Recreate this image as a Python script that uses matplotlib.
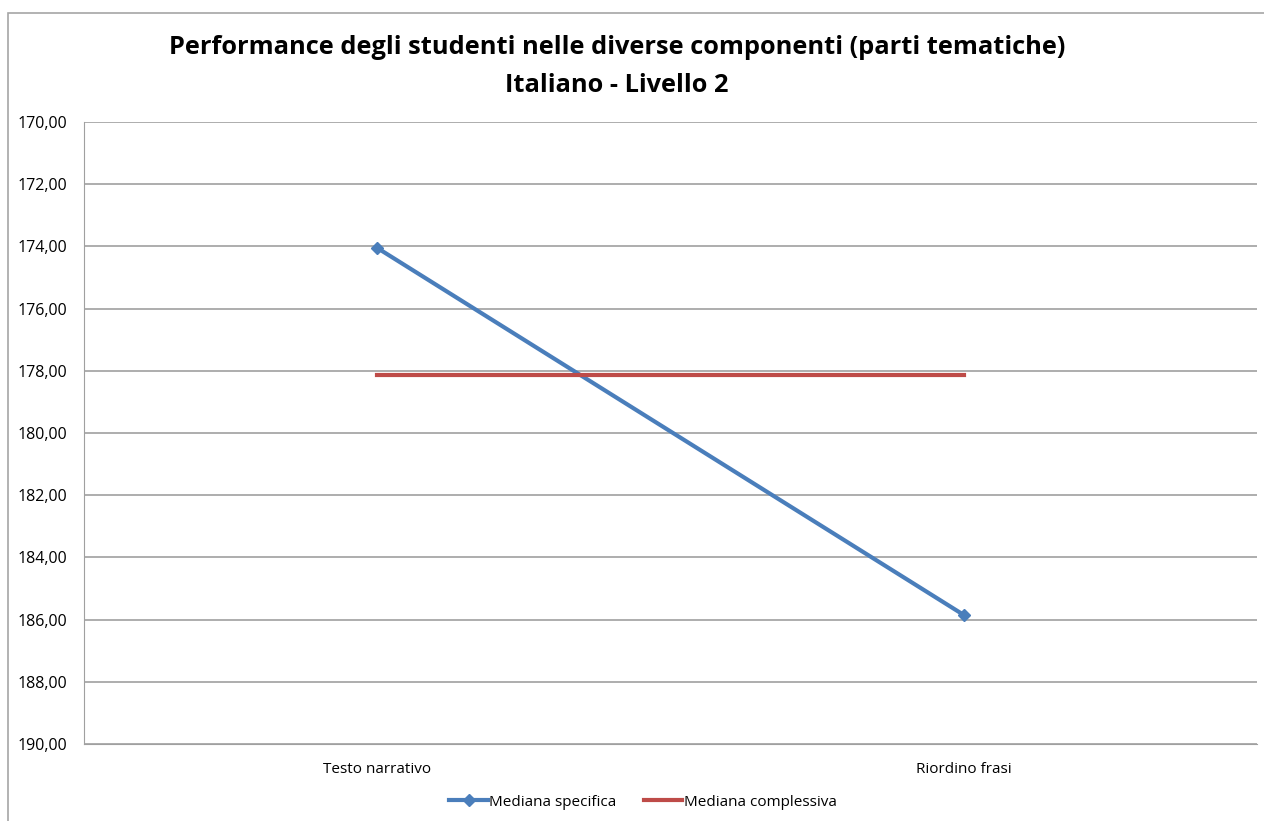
import numpy as np
import matplotlib.pyplot as plt
from matplotlib.patches import Rectangle
from matplotlib.ticker import FuncFormatter

categorie = ["Testo narrativo", "Riordino frasi"]
mediana_specifica = [174.05, 185.85]
mediana_complessiva = [178.13, 178.13]
y_ticks = np.arange(170, 191, 2)

plt.rcParams['font.family'] = ['Open Sans', 'DejaVu Sans']

fig = plt.figure(figsize=(12.64, 8.21), dpi=100)
fig.patches.append(Rectangle((8/1264, -0.1), 1.2, 1 - 13/821 + 0.1, transform=fig.transFigure,
                             fill=False, edgecolor='#a6a6a6', linewidth=1.2))
ax = fig.add_axes([84/1264, 1 - 744/821, (1257 - 84)/1264, (744 - 122)/821])

x = np.arange(len(categorie))
ax.plot(x, mediana_specifica, color='#4a7ebb', linewidth=3, marker='D', markersize=6,
        label='Mediana specifica')
ax.plot(x, mediana_complessiva, color='#be4b48', linewidth=3, label='Mediana complessiva')

ax.set_xlim(-0.5, 1.5)
ax.set_ylim(190, 170)
ax.set_yticks(y_ticks)
ax.yaxis.set_major_formatter(FuncFormatter(lambda v, p: f"{v:.2f}".replace('.', ',')))
ax.set_xticks(x)
ax.set_xticklabels(categorie)
ax.grid(axis='y', color='#a0a0a0', linewidth=1.2)
ax.set_axisbelow(True)
for s in ['top', 'right']:
    ax.spines[s].set_visible(False)
ax.spines['left'].set_color('#a0a0a0')
ax.spines['bottom'].set_color('#a0a0a0')
ax.tick_params(axis='y', length=0, labelsize=11.5, pad=12)
ax.tick_params(axis='x', length=0, labelsize=11, pad=13)

fig.text(617/1264, 1 - 47/821, "Performance degli studenti nelle diverse componenti (parti tematiche)",
         ha='center', va='center', fontsize=18.3, fontweight='bold')
fig.text(617/1264, 1 - 85/821, "Italiano - Livello 2", ha='center', va='center',
         fontsize=18.3, fontweight='bold')

fig.legend(loc='center', bbox_to_anchor=(643/1264, 1 - 802/821), ncol=2, frameon=False,
           fontsize=11, handlelength=2.5, handletextpad=0.1, columnspacing=1.8)

fig.savefig('out.png', dpi=100)
